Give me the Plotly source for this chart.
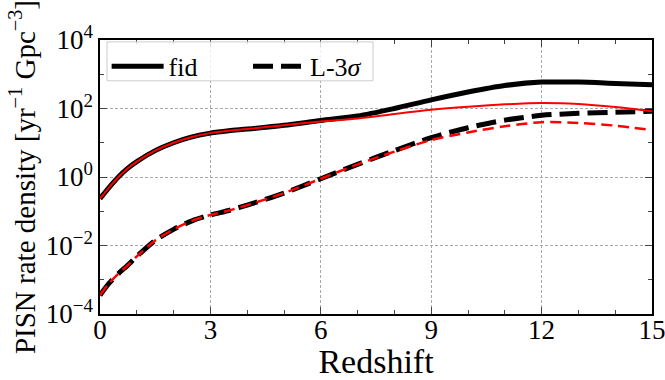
import plotly.graph_objects as go

# Redshift grid
z = [0, 0.25, 0.5, 0.75, 1, 1.5, 2, 2.5, 3, 3.5, 4, 5, 6, 7, 8, 9, 10, 11, 12, 13, 14, 15]

# PISN rate density [yr^-1 Gpc^-3]
fid_black = [0.234, 0.50, 1.0, 1.78, 2.82, 5.89, 10.0, 14.8, 19.1, 22.4, 25.1, 32.4, 44.7,
             60.3, 100, 178, 302, 468, 589, 589, 537, 490]
fid_red = [0.234, 0.50, 1.0, 1.78, 2.82, 5.89, 10.0, 14.8, 19.1, 22.4, 25.1, 32.4, 41.7,
           51.3, 69.2, 91.2, 112, 132, 145, 135, 110, 83.2]
l3s_black = [3.55e-4, 7.94e-4, 1.51e-3, 2.63e-3, 4.79e-3, 0.0141, 0.0295, 0.0525, 0.0776,
             0.105, 0.151, 0.339, 0.891, 2.34, 5.89, 14.1, 27.5, 45.7, 63.1, 72.4, 77.6, 83.2]
l3s_red = [3.55e-4, 7.94e-4, 1.51e-3, 2.63e-3, 4.79e-3, 0.0141, 0.0295, 0.0525, 0.0776,
           0.105, 0.151, 0.339, 0.891, 2.34, 5.5, 12.0, 20.0, 30.2, 39.8, 38.0, 31.6, 23.4]

x_ticks = [0, 3, 6, 9, 12, 15]
y_ticks = [1e-4, 1e-2, 1, 1e2, 1e4]
y_ticktext = ["10<sup>−4</sup>", "10<sup>−2</sup>", "10<sup>0</sup>", "10<sup>2</sup>", "10<sup>4</sup>"]

FONT = "Liberation Serif"
NB = "\u00a0"

fig = go.Figure()
fig.add_trace(go.Scatter(x=z, y=fid_black, mode="lines", name="fid" + NB * 7,
                         line=dict(color="black", width=5, shape="spline", smoothing=0.8)))
fig.add_trace(go.Scatter(x=z, y=l3s_black, mode="lines", name="L-3<i>σ</i>",
                         line=dict(color="black", width=5, dash="20px,8px", shape="spline", smoothing=0.8)))
fig.add_trace(go.Scatter(x=z, y=fid_red, mode="lines", showlegend=False,
                         line=dict(color="#ff0000", width=2, shape="spline", smoothing=0.8)))
fig.add_trace(go.Scatter(x=z, y=l3s_red, mode="lines", showlegend=False,
                         line=dict(color="#ff0000", width=2.5, dash="11px,6px", shape="spline", smoothing=0.8)))

# legend frame (matplotlib-style box), in paper coordinates
fig.add_shape(type="rect", xref="paper", yref="paper",
              x0=0.0127, x1=0.4946, y0=0.851, y1=0.993,
              line=dict(color="#cccccc", width=1), fillcolor="rgba(255,255,255,0.8)",
              layer="above")

fig.update_layout(
    width=665, height=380,
    margin=dict(l=100, r=13, t=40, b=66),
    plot_bgcolor="white", paper_bgcolor="white",
    font=dict(family=FONT, size=26, color="black"),
    legend=dict(orientation="h", x=0.012, y=0.99, xanchor="left", yanchor="top",
                bgcolor="rgba(0,0,0,0)", borderwidth=0,
                font=dict(family=FONT, size=26), itemwidth=52),
)
fig.update_xaxes(
    range=[0, 15], tickvals=x_ticks, ticks="inside", ticklen=7, tickwidth=1,
    showline=True, linecolor="black", linewidth=1.5, mirror="allticks",
    showgrid=True, gridcolor="#aaaaaa", griddash="3px,2px", gridwidth=0.8,
    zeroline=False, tickfont=dict(family=FONT, size=27), ticklabeloverflow="allow",
    ticklabelstandoff=-9,
    minor=dict(dtick=1, ticks="inside", ticklen=4, showgrid=False),
    title=dict(text="Redshift", font=dict(family=FONT, size=34), standoff=0), automargin=False,
)
fig.update_yaxes(
    type="log", range=[-4, 4], tickvals=y_ticks, ticktext=y_ticktext,
    ticks="inside", ticklen=7, tickwidth=1,
    showline=True, linecolor="black", linewidth=1.5, mirror="allticks",
    showgrid=True, gridcolor="#aaaaaa", griddash="3px,2px", gridwidth=0.8,
    zeroline=False, tickfont=dict(family=FONT, size=27),
    minor=dict(tickvals=[1e-3, 1e-1, 1e1, 1e3], ticks="inside", ticklen=4, showgrid=False),
    title=dict(text="PISN rate density [yr<sup>−1</sup> Gpc<sup>−3</sup>]",
               font=dict(family=FONT, size=29), standoff=2),
    automargin=False,
)

fig.write_html("out.html")
